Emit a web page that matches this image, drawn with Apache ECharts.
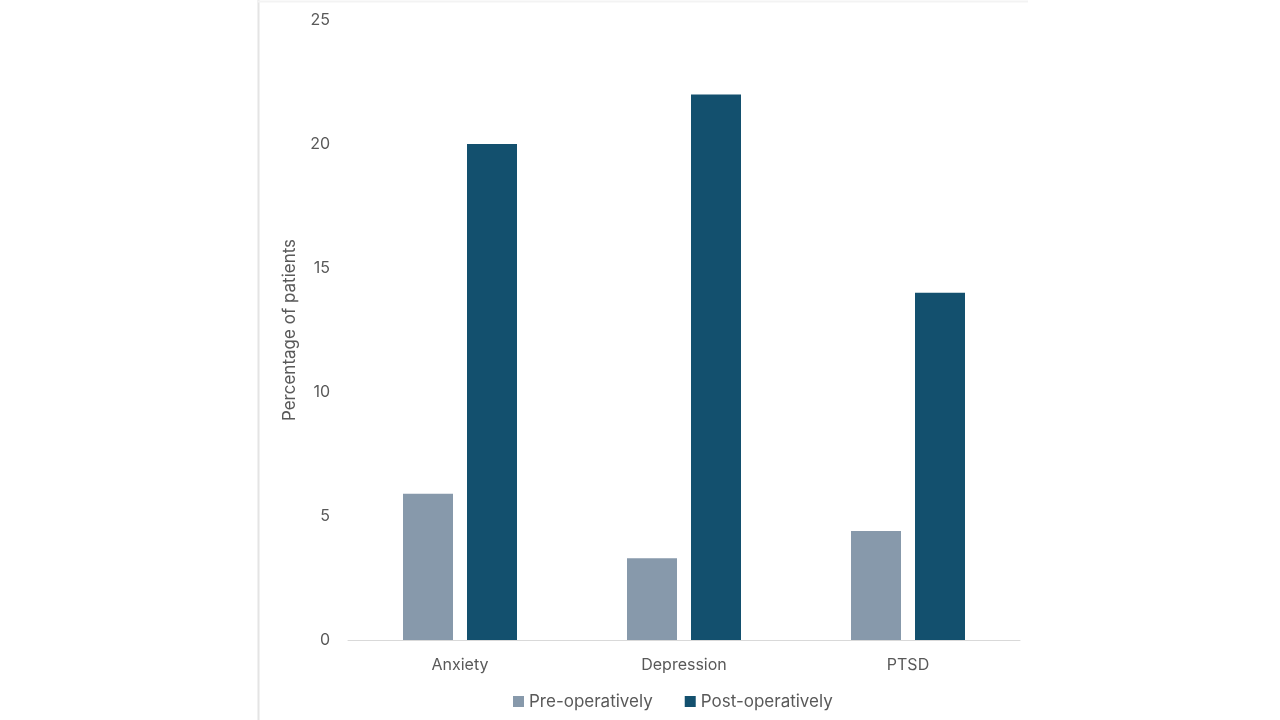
<!DOCTYPE html>
<html><head><meta charset="utf-8">
<script src="https://cdn.jsdelivr.net/npm/echarts@6/dist/echarts.min.js"></script>
<style>html,body{margin:0;padding:0;background:#fff}#c{width:1280px;height:720px}</style>
</head><body><div id="c"></div>
<script>
const categories = ['Anxiety', 'Depression', 'PTSD'];
const preOp = [5.9, 3.3, 4.4];
const postOp = [20, 22, 14];
const seriesNames = ['Pre-operatively', 'Post-operatively'];
const yTicks = { min: 0, max: 25, interval: 5 };

const chart = echarts.init(document.getElementById('c'));
chart.setOption({
  backgroundColor: '#ffffff',
  animation: false,
  textStyle: { fontFamily: 'Inter, "Open Sans", sans-serif' },
  graphic: [
    { type: 'line', shape: { x1: 258.5, y1: 0, x2: 258.5, y2: 720 }, style: { stroke: '#e4e4e4', lineWidth: 2 } },
    { type: 'line', shape: { x1: 258, y1: 1.5, x2: 1028, y2: 1.5 }, style: { stroke: '#f3f3f3', lineWidth: 2 } }
  ],
  grid: { left: 348, right: 260, top: 20, bottom: 80 },
  legend: {
    data: seriesNames,
    top: 688,
    left: 508,
    itemWidth: 11, itemHeight: 11, itemGap: 32,
    icon: 'rect',
    textStyle: { color: '#595959', fontSize: 17 }
  },
  xAxis: {
    type: 'category',
    data: categories,
    axisLine: { lineStyle: { color: '#d9d9d9' } },
    axisTick: { show: false },
    axisLabel: { color: '#595959', fontSize: 16, margin: 17 }
  },
  yAxis: {
    type: 'value',
    min: yTicks.min, max: yTicks.max, interval: yTicks.interval,
    name: 'Percentage of patients',
    nameLocation: 'middle',
    nameGap: 50,
    nameTextStyle: { color: '#595959', fontSize: 17 },
    splitLine: { show: false },
    axisLine: { show: false },
    axisTick: { show: false },
    axisLabel: { color: '#595959', fontSize: 16, margin: 18 }
  },
  series: [
    { name: seriesNames[0], type: 'bar', data: preOp, barWidth: 50, barGap: '28%', itemStyle: { color: '#8799ab' } },
    { name: seriesNames[1], type: 'bar', data: postOp, barWidth: 50, barGap: '28%', itemStyle: { color: '#13506e' } }
  ]
});
</script></body></html>
